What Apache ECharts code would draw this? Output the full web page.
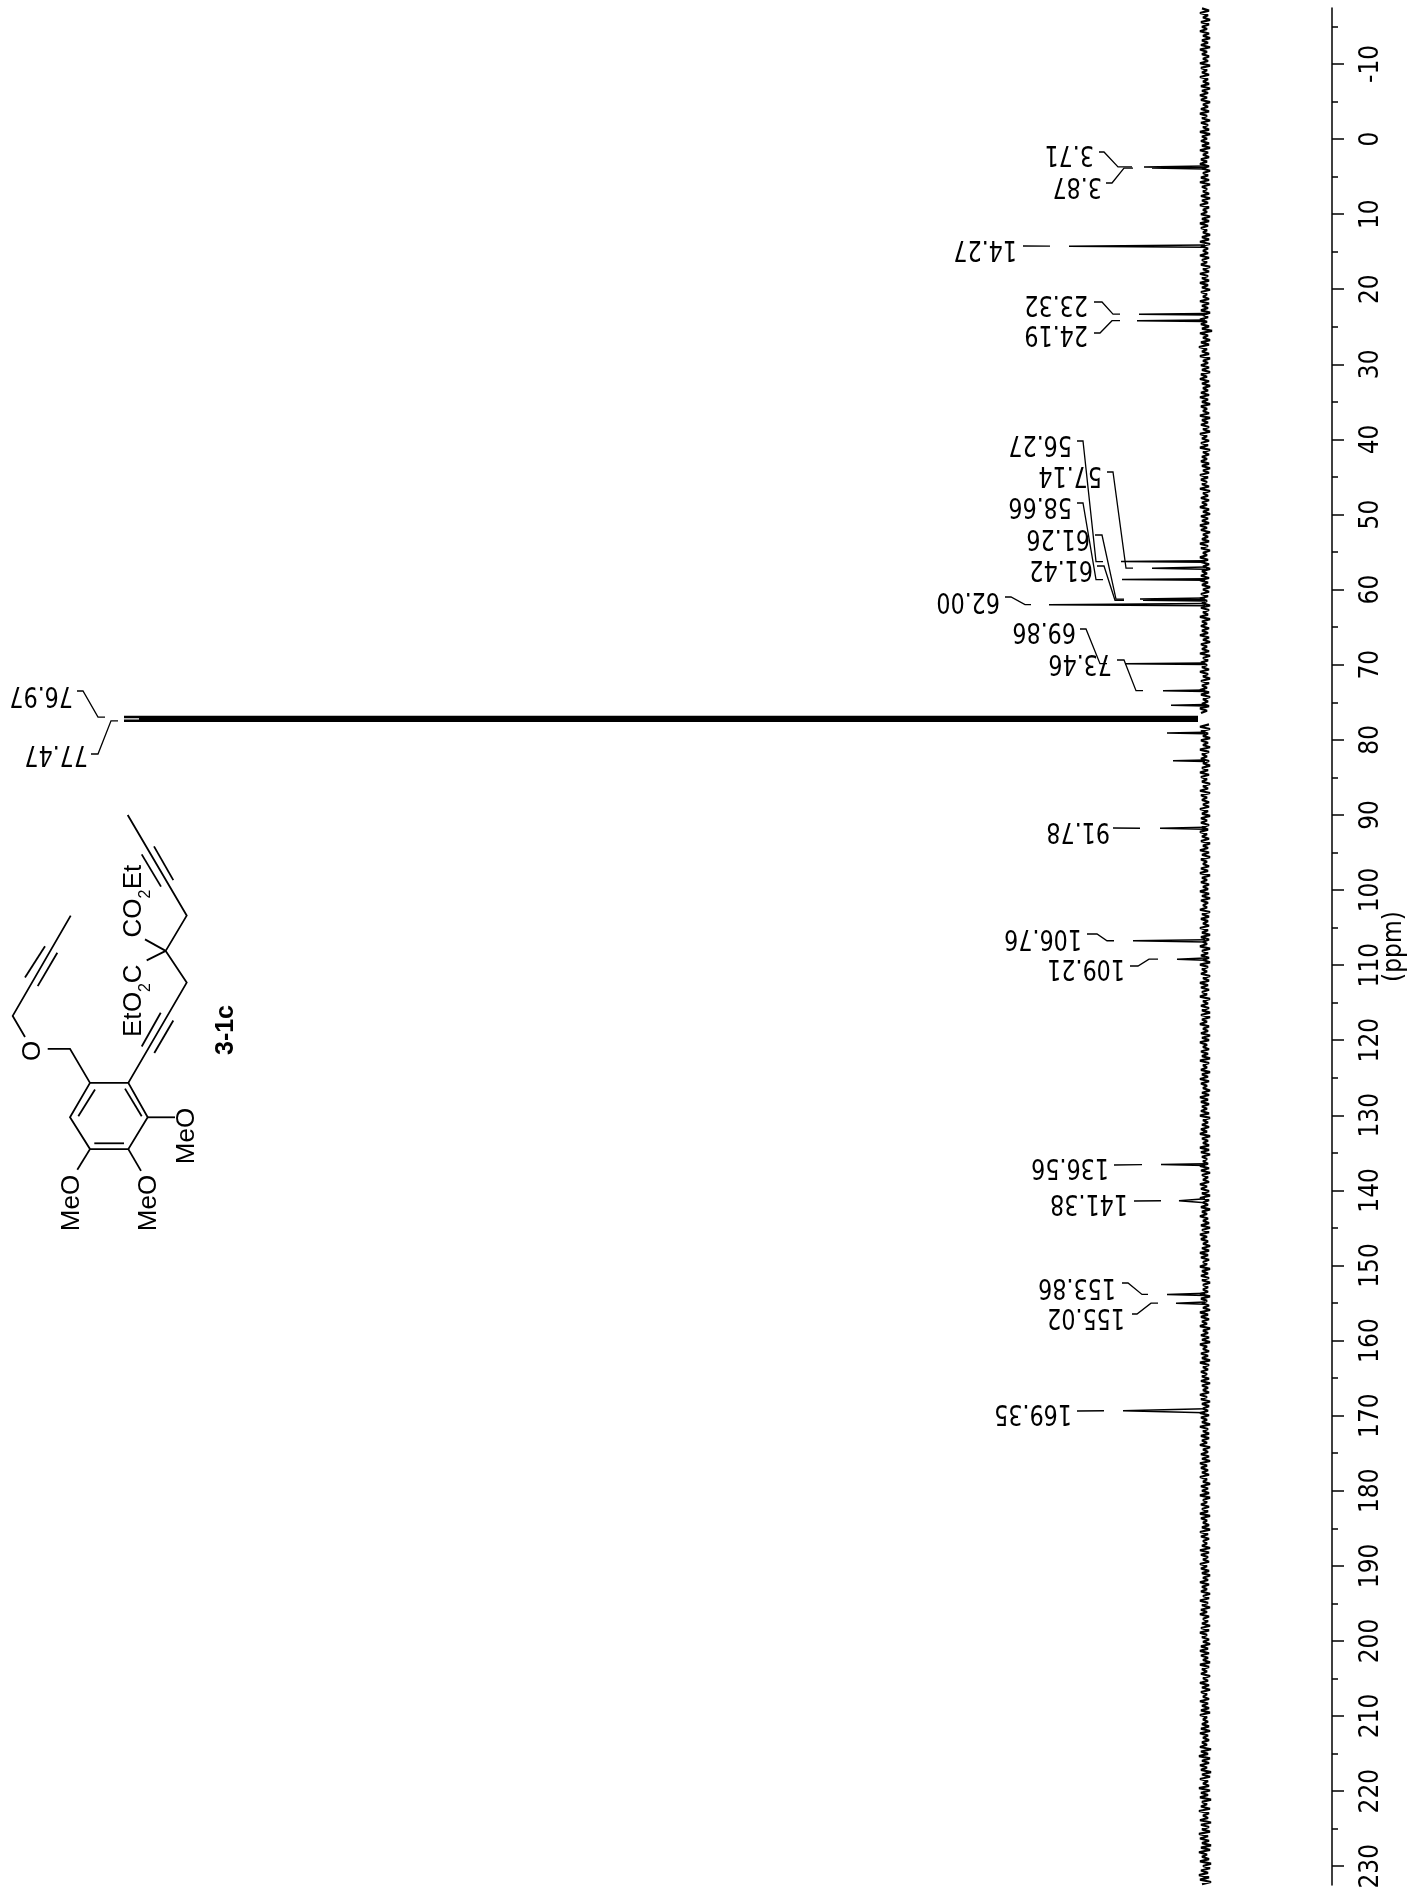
<!DOCTYPE html>
<html>
<head>
<meta charset="utf-8">
<title>13C NMR 3-1c</title>
<script src="https://cdn.jsdelivr.net/npm/echarts@6/dist/echarts.min.js"></script>
<style>
html, body { margin: 0; padding: 0; background: #ffffff; }
#chart { width: 1411px; height: 1891px; }
</style>
</head>
<body>
<div id="chart"></div>
<script>
// chemical shifts printed next to the peaks
var labelPpm = [3.71, 3.87, 14.27, 23.32, 24.19, 56.27, 57.14, 58.66, 61.26, 61.42, 62.00, 69.86, 73.46,
  76.97, 77.47, 91.78, 106.76, 109.21, 136.56, 141.38, 153.86, 155.02, 169.35];

// peaks (height counted from the baseline)
var peakPpm = [3.71, 3.87, 14.27, 23.32, 24.19, 56.27, 57.14, 58.66, 61.26, 61.42, 62.00, 69.86, 73.46,
  75.4, 79.1, 82.8, 91.78, 106.76, 109.21, 136.56, 141.38, 153.86, 155.02, 169.35];
var peakHeight = [61, 53, 136, 66, 68, 84, 53, 83, 65, 62, 156, 80, 42,
  34, 38, 32, 45, 72, 28, 44, 26, 38, 29, 82];
var peakBase = [0.12, 0.12, 0.15, 0.1, 0.1, 0.1, 0.15, 0.1, 0.15, 0.1, 0.15, 0.1, 0.1,
  0.1, 0.1, 0.1, 0.12, 0.15, 0.15, 0.12, 0.28, 0.15, 0.15, 0.26];

// CDCl3 triplet
var solventPpm = [76.97, 77.22, 77.47];
var solventHeight = [1081, 1066, 1081];
var solventFoot = 7;

// baseline noise, read along the spectrum from the low field end of the axis
var noiseFrom = -17.4;
var noiseTo = 232.4;
var noiseGap = [76.7, 77.7];
var noise = [
  3,-4,5,-3,2,-5,4,-4,3,-2,5,-4,2,-5,3,-3,4,-5,5,-2,3,-4,2,-3,5,-5,4,-2,3,-4,5,-3,2,-4,4,-5,3,-3,5,-2,
  4,-5,2,-3,4,-4,5,-2,3,-5,4,-3,2,-4,5,-5,3,-2,4,-4,3,-5,5,-3,2,-4,4,-2,5,-4,3,-5,2,-3,4,-4,5,-5,3,-2,
  2,-4,4,-5,3,-3,5,-4,2,-2,4,-5,3,-4,5,-3,4,-2,2,-5,3,-4,5,-5,4,-3,2,-3,5,-4,3,-2,4,-5,2,-4,5,-3,3,-4,
  5,-3,3,-5,4,-2,2,-4,5,-4,3,-3,4,-5,2,-3,5,-2,4,-4,3,-7,5,-3,2,-5,4,-4,6,-2,3,-4,5,-5,2,-3,4,-4,3,-5,
  4,-2,5,-4,3,-5,2,-3,4,-4,5,-3,3,-5,4,-2,2,-4,5,-5,3,-3,4,-4,2,-5,5,-2,3,-4,4,-3,5,-5,2,-4,3,-2,4,-4,
  3,-5,2,-4,5,-3,4,-2,3,-4,5,-5,2,-3,4,-4,3,-2,5,-4,2,-5,4,-3,3,-4,5,-2,4,-5,2,-3,3,-4,5,-3,4,-5,2,-2,
  5,-3,4,-4,2,-5,3,-2,4,-4,5,-3,3,-5,2,-4,4,-3,5,-2,3,-5,4,-4,2,-3,5,-5,3,-2,4,-4,3,-3,5,-4,2,-5,4,-2,
  3,-4,5,-5,2,-3,4,-2,3,-4,5,-3,2,-5,4,-4,3,-2,5,-4,4,-5,2,-3,3,-4,5,-2,4,-5,3,-3,6,-4,5,-5,4,-3,2,-5,
  4,-3,2,-5,5,-4,3,-2,4,-4,2,-5,3,-3,5,-4,4,-2,3,-5,2,-3,5,-5,4,-2,3,-4,2,-4,5,-3,3,-5,4,-2,4,-4,3,-3,
  5,-2,3,-4,4,-5,2,-3,5,-4,3,-5,4,-2,2,-4,4,-3,5,-5,3,-2,4,-4,2,-3,5,-4,3,-5,4,-3,2,-2,5,-5,3,-4,4,-3,
  2,-4,5,-3,3,-5,4,-4,2,-2,5,-5,3,-3,4,-4,2,-5,5,-3,3,-2,4,-5,2,-4,5,-3,4,-4,3,-2,5,-5,2,-3,4,-4,3,-5,
  4,-5,3,-2,5,-4,2,-3,4,-5,3,-4,5,-2,2,-4,4,-3,3,-5,5,-4,2,-2,4,-5,3,-3,5,-4,4,-2,2,-5,3,-4,5,-3,4,-4,
  3,-2,4,-4,5,-5,2,-3,3,-4,4,-2,5,-5,3,-3,2,-4,5,-4,4,-5,3,-2,2,-3,5,-4,4,-5,3,-3,2,-4,5,-2,4,-4,3,-5,
  5,-4,2,-3,4,-5,3,-2,5,-3,2,-4,4,-5,3,-4,5,-2,4,-3,2,-5,3,-4,5,-3,4,-4,2,-2,5,-5,3,-3,4,-4,3,-5,2,-3,
  2,-3,5,-5,4,-2,3,-4,2,-5,5,-3,4,-4,3,-2,5,-5,2,-3,4,-4,3,-5,5,-2,2,-4,4,-3,3,-5,5,-4,2,-3,4,-2,3,-4,
  4,-5,3,-3,2,-4,5,-2,4,-5,3,-4,2,-3,5,-4,4,-2,3,-5,5,-3,2,-4,4,-4,3,-2,5,-5,2,-3,4,-4,3,-5,5,-2,4,-3,
  3,-4,5,-2,2,-5,4,-3,3,-4,5,-5,2,-2,4,-4,3,-3,5,-5,4,-2,2,-4,3,-5,5,-3,4,-4,2,-2,3,-5,5,-4,4,-3,2,-4,
  5,-2,4,-4,3,-5,2,-3,5,-4,3,-2,4,-5,2,-4,5,-3,3,-5,4,-2,5,-4,2,-3,3,-5,4,-4,5,-2,3,-4,2,-5,4,-3,5,-4,
  4,-3,2,-5,5,-4,3,-2,4,-5,2,-3,5,-4,3,-5,4,-2,2,-4,5,-3,3,-4,4,-5,5,-2,2,-3,3,-4,4,-5,5,-3,2,-4,3,-2,
  5,-6,4,-3,6,-5,3,-4,5,-2,4,-6,3,-5,5,-3,2,-4,6,-5,4,-3,5,-6,3,-2,4,-5,6,-4,2,-3,5,-6,4,-4,3,-5,6,-3,
  5,-4,3,-6,4,-5,6,-2,3,-4,5,-6,2,-5,4,-3,6,-4,5,-6,3
];

// where the printed shifts and their leader lines sit: text x, text y, leader x's, leader y at the text
var labelLayout = [
  [1094, 153, [1099, 1104, 1118, 1132], 152],
  [1102, 185, [1106, 1112, 1124, 1133], 183],
  [1017, 248, [1023, 1023, 1050, 1050], 246],
  [1088, 303, [1094, 1102, 1113, 1120], 302],
  [1088, 333, [1094, 1100, 1112, 1120], 333],
  [1072, 443, [1077, 1083, 1096, 1103], 441],
  [1102, 474, [1107, 1113, 1126, 1133], 472],
  [1072, 505, [1077, 1083, 1096, 1103], 503],
  [1090, 537, [1095, 1102, 1116, 1124], 535],
  [1093, 568, [1097, 1104, 1115, 1124], 566],
  [1000, 600, [1005, 1011, 1025, 1031], 597],
  [1076, 630, [1080, 1086, 1100, 1107], 629],
  [1112, 662, [1117, 1124, 1136, 1143], 660],
  [73, 694, [77, 83, 98, 105], 691],
  [88, 753, [91, 98, 111, 118], 754],
  [1110, 830, [1113, 1113, 1140, 1140], 828],
  [1082, 937, [1087, 1097, 1107, 1114], 934],
  [1125, 967, [1130, 1138, 1149, 1158], 966],
  [1109, 1166, [1114, 1114, 1142, 1142], 1165],
  [1128, 1202, [1134, 1134, 1161, 1161], 1201],
  [1116, 1286, [1122, 1128, 1142, 1148], 1283],
  [1125, 1316, [1132, 1137, 1151, 1158], 1314],
  [1072, 1412, [1077, 1077, 1104, 1104], 1411]
];

// axis ticks
var majorTicks = [-10, 0, 10, 20, 30, 40, 50, 60, 70, 80, 90, 100, 110, 120, 130, 140, 150, 160, 170, 180, 190, 200, 210, 220, 230];
var minorTicks = [-15, -5, 5, 15, 25, 35, 45, 55, 65, 75, 85, 95, 105, 115, 125, 135, 145, 155, 165, 175, 185, 195, 205, 215, 225];

// structure drawing 3-1c
var bonds = [
  [[127.7, 815], [186.7, 915.6], [165.7, 950.9], [186.7, 982.6], [128.3, 1082.9]],
  [[154, 846.4], [173.3, 880.1]],
  [[141.7, 854.4], [161, 886.6]],
  [[160.7, 1012.8], [141.7, 1046.5]],
  [[173.3, 1020.5], [154.3, 1053]],
  [[165.7, 950.9], [145, 939.4]],
  [[165.7, 950.9], [146.7, 960.4]],
  [[70.7, 915.6], [12.7, 1015.9], [25, 1037]],
  [[45, 946.3], [25, 977.6]],
  [[57.3, 952.8], [37.7, 986.1]],
  [[47.7, 1048.8], [70, 1048.8], [90, 1082.9]],
  [[90, 1082.9], [128.3, 1082.9], [147.7, 1117.3], [128.3, 1149.1], [90, 1149.1], [70, 1117.3], [90, 1082.9]],
  [[95, 1089.4], [78.3, 1116.2]],
  [[125, 1088.6], [141.7, 1116.2]],
  [[94.3, 1143.3], [124, 1143.3]],
  [[147.7, 1117.3], [175, 1117.3]],
  [[128.3, 1149.1], [141, 1170.9]],
  [[90, 1149.1], [77.3, 1169.8]]
];
var atomLabels = [
  ["O", 33.3, 1051, 26, "normal"],
  ["MeO", 186.7, 1136, 26, "normal"],
  ["MeO", 149, 1203, 26, "normal"],
  ["MeO", 72.3, 1203, 26, "normal"],
  ["CO", 134, 918, 26, "normal"],
  ["2", 146, 894, 16, "normal"],
  ["Et", 134, 877, 26, "normal"],
  ["Et", 134, 1024.7, 26, "normal"],
  ["O", 134, 1002, 26, "normal"],
  ["2", 146, 987.5, 16, "normal"],
  ["C", 134, 973.8, 26, "normal"],
  ["3-1c", 225.7, 1030, 25, "bold"]
];

var specFont = '"DejaVu Sans Condensed", "DejaVu Sans", sans-serif';
var chemFont = '"Liberation Sans", Arial, sans-serif';

var noiseData = noise.map(function (v, i) {
  var ppm = noiseFrom + i * (noiseTo - noiseFrom) / (noise.length - 1);
  if (ppm > noiseGap[0] && ppm < noiseGap[1]) {
    return ["-", ppm];
  }
  return [v, ppm];
});

var peakData = [];
peakPpm.forEach(function (p, i) {
  peakData.push([0, p - peakBase[i]], [peakHeight[i], p], [0, p + peakBase[i]], ["-", p]);
});

var solventData = [];
solventPpm.forEach(function (p, i) {
  solventData.push([solventFoot, p], [solventHeight[i], p], ["-", p]);
});

var graphicItems = [];
bonds.forEach(function (pts) {
  graphicItems.push({
    type: "polyline",
    silent: true,
    shape: { points: pts },
    style: { stroke: "#000", lineWidth: 1.8, fill: null }
  });
});
atomLabels.forEach(function (a) {
  graphicItems.push({
    type: "text",
    silent: true,
    x: a[1],
    y: a[2],
    rotation: Math.PI / 2,
    style: {
      text: a[0],
      font: a[4] + " " + a[3] + "px " + chemFont,
      fill: "#000",
      textAlign: "center",
      textVerticalAlign: "middle"
    }
  });
});

function renderLabel(params, api) {
  var layout = labelLayout[params.dataIndex];
  var peakY = api.coord([0, api.value(1)])[1];
  var xs = layout[2];
  return {
    type: "group",
    children: [
      {
        type: "polyline",
        shape: { points: [[xs[0], layout[3]], [xs[1], layout[3]], [xs[2], peakY], [xs[3], peakY]] },
        style: { stroke: "#000", lineWidth: 1.3, fill: null }
      },
      {
        type: "text",
        x: layout[0],
        y: layout[1],
        rotation: Math.PI,
        scaleX: 1.03,
        scaleY: 1.15,
        style: {
          text: api.value(1).toFixed(2),
          font: "24px " + specFont,
          fill: "#000",
          textAlign: "left",
          textVerticalAlign: "middle"
        }
      }
    ]
  };
}

var chart = echarts.init(document.getElementById("chart"), null, { renderer: "canvas" });
chart.setOption({
  backgroundColor: "#ffffff",
  animation: false,
  grid: { left: 0, width: 1332, top: 8, height: 1877, outerBoundsMode: "none" },
  xAxis: { type: "value", min: -127, max: 1205, inverse: true, show: false },
  yAxis: [
    {
      type: "value",
      min: -17.45,
      max: 232.5,
      inverse: true,
      position: "right",
      name: "(ppm)",
      nameLocation: "middle",
      nameRotate: 90,
      nameGap: 62,
      nameMoveOverlap: false,
      nameTextStyle: { fontFamily: specFont, fontSize: 26, color: "#000", verticalAlign: "middle" },
      splitLine: { show: false },
      axisLine: { show: true, onZero: false, lineStyle: { color: "#000", width: 1.5 } },
      axisTick: { show: true, length: 12, customValues: majorTicks, lineStyle: { color: "#000", width: 1.5 } },
      axisLabel: {
        show: true,
        customValues: majorTicks,
        rotate: 90,
        margin: 26,
        fontFamily: specFont,
        fontSize: 26,
        color: "#000"
      }
    },
    {
      type: "value",
      min: -17.45,
      max: 232.5,
      inverse: true,
      position: "right",
      splitLine: { show: false },
      axisLine: { show: false, onZero: false },
      axisTick: { show: true, length: 6, customValues: minorTicks, lineStyle: { color: "#000", width: 1.5 } },
      axisLabel: { show: false }
    }
  ],
  graphic: { elements: graphicItems },
  series: [
    {
      name: "noise",
      type: "line",
      yAxisIndex: 0,
      data: noiseData,
      showSymbol: false,
      silent: true,
      clip: false,
      lineStyle: { color: "#000", width: 2.2 }
    },
    {
      name: "peaks",
      type: "line",
      yAxisIndex: 0,
      data: peakData,
      showSymbol: false,
      silent: true,
      lineStyle: { color: "#000", width: 1.5 }
    },
    {
      name: "solvent",
      type: "line",
      yAxisIndex: 0,
      data: solventData,
      showSymbol: false,
      silent: true,
      lineStyle: { color: "#000", width: 2.6 }
    },
    {
      name: "shifts",
      type: "custom",
      yAxisIndex: 0,
      silent: true,
      clip: false,
      data: labelPpm.map(function (p) { return [0, p]; }),
      renderItem: renderLabel
    }
  ]
});
</script>
</body>
</html>
